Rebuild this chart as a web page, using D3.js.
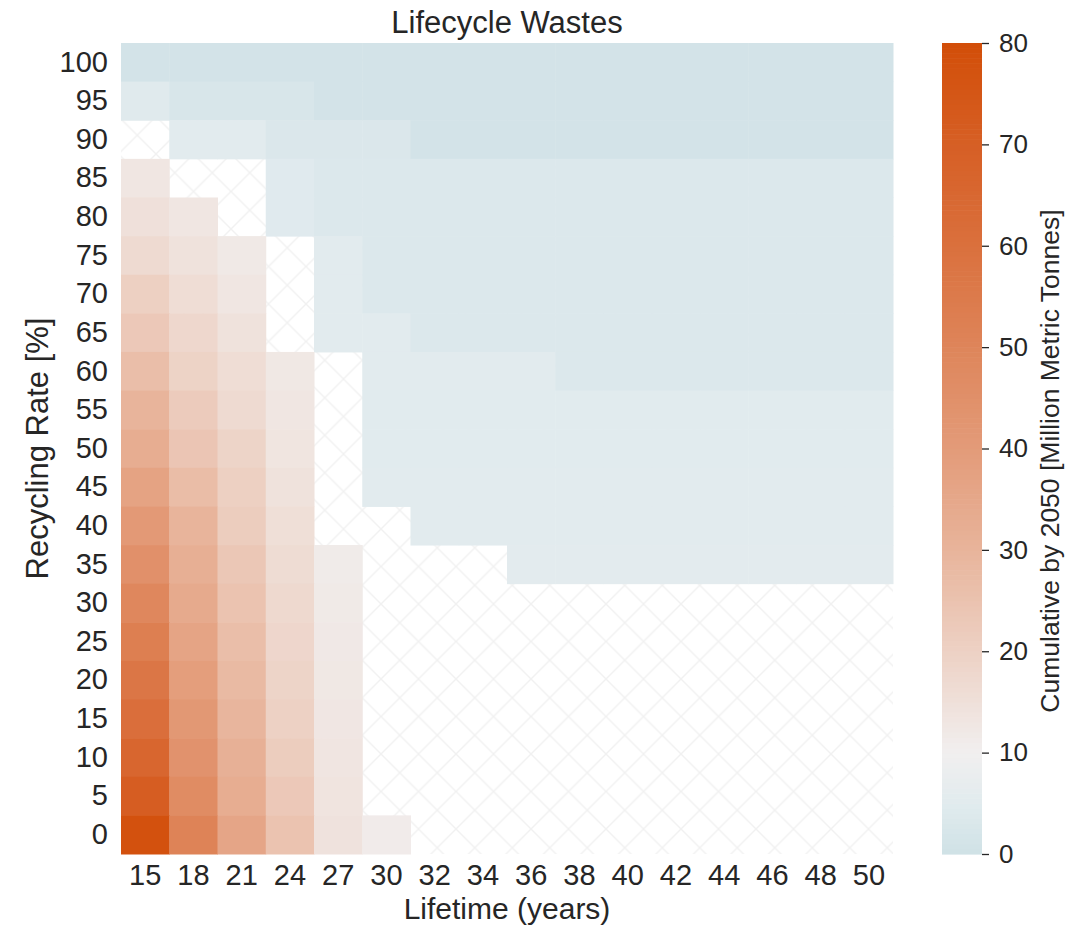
<!DOCTYPE html>
<html>
<head>
<meta charset="utf-8">
<script src="https://cdn.jsdelivr.net/npm/d3@7"></script>
<style>
  body { margin: 0; background: #ffffff; }
  text { font-family: "Liberation Sans", Arial, Helvetica, sans-serif; fill: #262626; }
</style>
</head>
<body>
<svg id="chart" width="1066" height="929"></svg>
<script>
// Lifetime of the installed base (years) — heatmap columns
const lifetimes = [15, 18, 21, 24, 27, 30, 32, 34, 36, 38, 40, 42, 44, 46, 48, 50];
// Recycling rate (%) — heatmap rows, top to bottom
const recyclingRates = [100, 95, 90, 85, 80, 75, 70, 65, 60, 55, 50, 45, 40, 35, 30, 25, 20, 15, 10, 5, 0];

// Cumulative lifecycle wastes by 2050 [Mt], one array per recycling rate,
// values follow the lifetimes order; null = no result for that scenario
const r100 = [1.0, 1.0, 1.0, 1.0, 1.0, 1.0, 1.0, 1.0, 1.0, 1.0, 1.0, 1.0, 1.0, 1.0, 1.0, 1.0];
const r95  = [4.6, 2.6, 2.6, 2.6, 1.0, 1.0, 1.0, 1.0, 1.0, 1.0, 1.0, 1.0, 1.0, 1.0, 1.0, 1.0];
const r90  = [null, 5.4, 5.4, 3.2, 3.2, 3.2, 1.0, 1.0, 1.0, 1.0, 1.0, 1.0, 1.0, 1.0, 1.0, 1.0];
const r85  = [13.0, null, null, 4.7, 3.5, 3.5, 3.5, 3.5, 3.5, 3.5, 3.5, 3.5, 3.5, 3.5, 3.5, 3.5];
const r80  = [15.0, 13.0, null, 4.7, 3.5, 3.5, 3.5, 3.5, 3.5, 3.5, 3.5, 3.5, 3.5, 3.5, 3.5, 3.5];
const r75  = [17.0, 14.5, 12.0, null, 5.3, 3.5, 3.5, 3.5, 3.5, 3.5, 3.5, 3.5, 3.5, 3.5, 3.5, 3.5];
const r70  = [20.5, 16.0, 13.0, null, 5.3, 3.5, 3.5, 3.5, 3.5, 3.5, 3.5, 3.5, 3.5, 3.5, 3.5, 3.5];
const r65  = [23.0, 18.0, 14.5, null, 5.3, 5.3, 3.6, 3.6, 3.6, 3.6, 3.6, 3.6, 3.6, 3.6, 3.6, 3.6];
const r60  = [26.5, 19.5, 16.0, 12.5, null, 5.2, 5.2, 5.2, 5.2, 3.7, 3.7, 3.7, 3.7, 3.7, 3.7, 3.7];
const r55  = [30.0, 22.0, 17.0, 13.0, null, 5.0, 5.0, 5.0, 5.0, 5.0, 5.0, 5.0, 5.0, 5.0, 5.0, 5.0];
const r50  = [33.0, 24.0, 19.0, 13.5, null, 5.1, 5.1, 5.1, 5.1, 5.1, 5.1, 5.1, 5.1, 5.1, 5.1, 5.1];
const r45  = [37.0, 27.0, 20.5, 14.5, null, 5.2, 5.2, 5.2, 5.2, 5.2, 5.2, 5.2, 5.2, 5.2, 5.2, 5.2];
const r40  = [41.0, 30.0, 21.5, 15.5, null, null, 5.3, 5.3, 5.3, 5.3, 5.3, 5.3, 5.3, 5.3, 5.3, 5.3];
const r35  = [45.0, 32.0, 23.5, 16.5, 11.5, null, null, null, 5.5, 5.5, 5.5, 5.5, 5.5, 5.5, 5.5, 5.5];
const r30  = [49.0, 34.0, 25.0, 17.5, 11.8, null, null, null, null, null, null, null, null, null, null, null];
const r25  = [53.0, 36.5, 26.5, 18.2, 12.2, null, null, null, null, null, null, null, null, null, null, null];
const r20  = [57.0, 39.0, 28.0, 19.0, 12.5, null, null, null, null, null, null, null, null, null, null, null];
const r15  = [61.0, 41.5, 29.5, 20.0, 12.9, null, null, null, null, null, null, null, null, null, null, null];
const r10  = [66.0, 44.0, 31.5, 21.5, 13.3, null, null, null, null, null, null, null, null, null, null, null];
const r5   = [71.0, 47.0, 33.0, 23.0, 13.7, null, null, null, null, null, null, null, null, null, null, null];
const r0   = [78.0, 51.0, 36.0, 25.0, 14.2, 11.2, null, null, null, null, null, null, null, null, null, null];

const wasteRows = [r100, r95, r90, r85, r80, r75, r70, r65, r60, r55, r50, r45, r40, r35, r30, r25, r20, r15, r10, r5, r0];

// Colour bar ticks
const colorbarTicks = [0, 10, 20, 30, 40, 50, 60, 70, 80];

// Diverging colour map: pale blue at 0, near-white around 10, burnt orange at 80
const cmapStops  = [0, 5, 10, 20, 30, 40, 50, 60, 70, 80];
const cmapColors = ["#cfe1e6", "#e1ebee", "#f1efef", "#edd1c4", "#e8b49b",
                    "#e39b79", "#de855a", "#da703d", "#d65f25", "#d24e08"];

const svg = d3.select("#chart");
const plot = { left: 121, top: 43, right: 893, bottom: 854 };

const x = d3.scaleBand().domain(lifetimes).range([plot.left, plot.right]);
const y = d3.scaleBand().domain(recyclingRates).range([plot.top, plot.bottom]);
const color = d3.scaleLinear().domain(cmapStops).range(cmapColors)
  .interpolate(d3.interpolateRgb).clamp(true);

// Cross-hatched background shows through where a scenario has no value
const defs = svg.append("defs");
const hatch = defs.append("pattern")
  .attr("id", "hatch")
  .attr("patternUnits", "userSpaceOnUse")
  .attr("x", 6).attr("y", 4)
  .attr("width", 37.5).attr("height", 37.5);
hatch.append("path")
  .attr("d", "M0,0L37.5,37.5M37.5,0L0,37.5")
  .attr("stroke", "#f1f1f1")
  .attr("stroke-width", 1.4)
  .attr("fill", "none");

svg.append("rect")
  .attr("x", plot.left).attr("y", plot.top)
  .attr("width", plot.right - plot.left).attr("height", plot.bottom - plot.top)
  .attr("fill", "url(#hatch)");

// Heatmap cells
const cells = [];
wasteRows.forEach((row, i) => {
  row.forEach((v, j) => {
    if (v !== null) cells.push({ rate: recyclingRates[i], life: lifetimes[j], value: v });
  });
});

svg.append("g")
  .selectAll("rect")
  .data(cells)
  .join("rect")
  .attr("x", d => x(d.life))
  .attr("y", d => y(d.rate))
  .attr("width", x.bandwidth() + 0.5)
  .attr("height", y.bandwidth() + 0.5)
  .attr("fill", d => color(d.value));

// Axes (no tick marks, no spines)
const xAxis = svg.append("g")
  .attr("transform", `translate(0,${plot.bottom})`)
  .call(d3.axisBottom(x).tickSize(0).tickPadding(10));
xAxis.select(".domain").remove();
xAxis.selectAll("text").style("font-size", "29px").style("fill", "#262626");

const yAxis = svg.append("g")
  .attr("transform", `translate(${plot.left},0)`)
  .call(d3.axisLeft(y).tickSize(0).tickPadding(13));
yAxis.select(".domain").remove();
yAxis.selectAll("text").style("font-size", "29px").style("fill", "#262626");

// Titles
svg.append("text")
  .attr("x", (plot.left + plot.right) / 2).attr("y", 33)
  .attr("text-anchor", "middle")
  .style("font-size", "31px")
  .text("Lifecycle Wastes");

svg.append("text")
  .attr("x", (plot.left + plot.right) / 2).attr("y", 919)
  .attr("text-anchor", "middle")
  .style("font-size", "30px")
  .text("Lifetime (years)");

svg.append("text")
  .attr("transform", `translate(48,${(plot.top + plot.bottom) / 2}) rotate(-90)`)
  .attr("text-anchor", "middle")
  .style("font-size", "31px")
  .text("Recycling Rate [%]");

// Colour bar
const cb = { left: 942, right: 982 };
const cbScale = d3.scaleLinear().domain([0, 80]).range([plot.bottom, plot.top]);
const cbSteps = d3.range(0, 80, 0.5);
svg.append("g")
  .selectAll("rect")
  .data(cbSteps)
  .join("rect")
  .attr("x", cb.left)
  .attr("width", cb.right - cb.left)
  .attr("y", d => cbScale(d + 0.5))
  .attr("height", d => cbScale(d) - cbScale(d + 0.5) + 0.6)
  .attr("fill", d => color(d + 0.25));

const cbAxis = svg.append("g")
  .attr("transform", `translate(${cb.right},0)`)
  .call(d3.axisRight(cbScale).tickValues(colorbarTicks).tickSize(7).tickPadding(10));
cbAxis.select(".domain").remove();
cbAxis.selectAll("line").attr("stroke", "#262626").attr("stroke-width", 1.3);
cbAxis.selectAll("text").style("font-size", "26px").style("fill", "#262626");

svg.append("text")
  .attr("transform", `translate(1059,461) rotate(-90)`)
  .attr("text-anchor", "middle")
  .style("font-size", "26.5px")
  .text("Cumulative by 2050 [Million Metric Tonnes]");
</script>
</body>
</html>
